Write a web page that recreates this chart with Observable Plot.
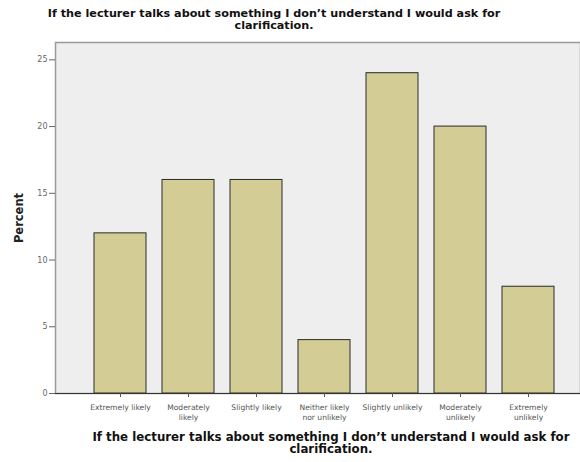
<!DOCTYPE html>
<html>
<head>
<meta charset="utf-8">
<script src="https://cdn.jsdelivr.net/npm/d3@7"></script>
<script src="https://cdn.jsdelivr.net/npm/@observablehq/plot@0.6"></script>
<style>
  html, body { margin: 0; padding: 0; background: #fff; }
  #wrap { position: relative; width: 580px; height: 462px; overflow: hidden; font-family: "DejaVu Sans", sans-serif; }
  .title { position: absolute; text-align: center; font-weight: bold; color: #111; white-space: pre-line; }
  #top { left: 0; width: 548px; top: 8px; font-size: 11.2px; line-height: 12px; }
  #bottom { left: 58px; width: 546px; top: 431px; font-size: 11.8px; line-height: 12px; }
  svg { position: absolute; left: 0; top: 0; }
</style>
</head>
<body>
<div id="wrap">
  <div id="top" class="title"></div>
  <div id="bottom" class="title"></div>
</div>
<script>
// Response categories and their share of respondents (%)
const categories = [
  "Extremely likely",
  "Moderately\nlikely",
  "Slightly likely",
  "Neither likely\nnor unlikely",
  "Slightly unlikely",
  "Moderately\nunlikely",
  "Extremely\nunlikely"
];
const percents = [12, 16, 16, 4, 24, 20, 8];
const yTicks = [0, 5, 10, 15, 20, 25];
const questionLines = [
  "If the lecturer talks about something I don\u2019t understand I would ask for",
  "clarification."
];

const rows = categories.map((c, i) => ({category: c, percent: percents[i]}));

document.getElementById("top").textContent = questionLines.join("\n");
document.getElementById("bottom").textContent = questionLines.join("\n");

const chart = Plot.plot({
  width: 580,
  height: 462,
  marginTop: 42,
  marginBottom: 69,
  marginLeft: 55,
  marginRight: 0,
  style: {fontFamily: "DejaVu Sans, sans-serif", background: "transparent"},
  x: {domain: categories, range: [55, 593], paddingInner: 0.23, paddingOuter: 0.52},
  y: {domain: [0, 26.3]},
  marks: [
    Plot.frame({fill: "#eeeeee", stroke: "#9a9a9a", strokeWidth: 1.5}),
    Plot.barY(rows, {x: "category", y: "percent", fill: "#d3cd95", stroke: "#2a2a2a", strokeWidth: 1}),
    Plot.ruleY([0], {stroke: "#333", strokeWidth: 1.2}),
    Plot.axisY({ticks: yTicks, tickSize: 6, tickPadding: 2, fontSize: 8, color: "#666", label: null}),
    Plot.axisX({tickSize: 4, tickPadding: 5, fontSize: 7.6, color: "#555", label: null, lineHeight: 1.35}),
    Plot.text(["Percent"], {frameAnchor: "left", textAnchor: "middle", rotate: -90, dx: -36, fontSize: 11.5, fontWeight: "bold", fill: "#222"})
  ]
});
document.getElementById("wrap").prepend(chart);
</script>
</body>
</html>
